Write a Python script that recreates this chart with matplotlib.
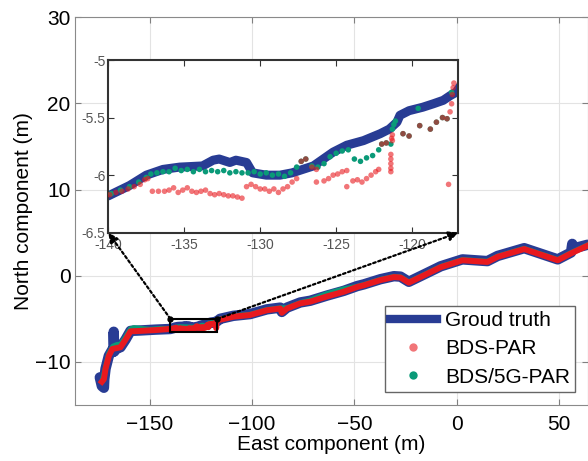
import matplotlib
matplotlib.use("Agg")
import matplotlib.pyplot as plt
from matplotlib.lines import Line2D
from matplotlib.patches import Rectangle, ConnectionPatch

plt.rcParams["font.family"] = ["Liberation Sans", "DejaVu Sans"]

# ground truth trajectory (east, north) in metres
gt_x = [-174.5, -173.5, -172.5, -172.3, -171.7, -170.1, -168.4, -167.7, -167.7, -167.5,
        -166.0, -164.4, -161.9, -159.5, -154.6, -147.0, -142.0,
        -140.0, -138.6, -137.5, -136.4, -135.3, -133.8, -133.1, -132.7, -132.0, -131.6,
        -130.9, -130.5, -129.6, -128.7, -127.9, -126.5, -125.2, -124.3, -123.2, -122.1,
        -121.5, -121.0, -120.8, -120.2, -119.3, -118.6, -117.95, -117.5, -117.1,
        -115.7, -109.2, -101.0, -92.8, -86.3, -85.5, -83.0, -76.5, -71.6, -63.4, -55.2,
        -48.7, -45.4, -37.3, -30.7, -27.5, -23.4, -16.0, -7.8, 2.8, 15.0, 20.0, 33.0,
        49.4, 55.9, 56.5, 57.5, 64.0]
gt_y = [-11.8, -12.8, -13.0, -12.0, -10.8, -9.3, -8.6, -8.8, -6.5, -8.8,
        -8.4, -8.3, -7.4, -6.4, -6.35, -6.25, -6.2,
        -6.18, -6.09, -6.0, -5.95, -5.93, -5.92, -5.87, -5.86, -5.89, -5.87,
        -5.89, -5.98, -6.0, -6.0, -5.98, -5.92, -5.80, -5.74, -5.70, -5.64,
        -5.60, -5.54, -5.48, -5.44, -5.41, -5.38, -5.35, -5.31, -5.28,
        -5.0, -4.65, -4.45, -3.9, -3.7, -4.2, -3.7, -3.1, -2.9, -2.3, -1.75,
        -1.2, -1.0, -0.4, -0.05, -0.1, -0.7, 0.15, 1.1, 1.9, 1.7, 2.3, 3.2,
        1.9, 2.7, 3.7, 3.2, 3.6]

# BDS-PAR solution
par_x = [-173.5, -172.5, -171.7, -170.1, -168.4, -164.4, -161.9, -159.5, -154.6, -147.0,
         -139.9, -139.5, -139.1, -138.7, -138.3, -137.9, -137.6, -137.4,
         -137.1, -136.7, -136.3, -136.0, -135.7, -135.4, -135.1, -134.8, -134.5, -134.2,
         -133.9, -133.6, -133.3, -133.0, -132.7, -132.4, -132.1, -131.8, -131.5, -131.2,
         -130.9, -130.6, -130.3, -130.0, -129.7, -129.4, -129.1, -128.8, -128.5, -128.2,
         -127.9, -127.6, -127.3, -127.0, -126.6, -126.3, -126.3,
         -125.8, -125.5, -125.2, -124.9, -124.6, -124.3, -124.3, -123.9, -123.6, -123.3,
         -123.0, -122.7, -122.4, -122.2, -122.0, -121.7,
         -121.4, -121.4, -121.4, -121.4, -121.4, -121.35, -121.3, -121.3,
         -120.6, -120.2, -119.5, -118.8, -118.4, -118.0, -117.7,
         -117.6, -117.5, -117.4, -117.35, -117.3, -117.25,
         -115.7, -109.2, -101.0, -92.8, -86.3, -85.5, -83.0, -76.5, -71.6, -63.4, -55.2,
         -48.7, -45.4, -37.3, -30.7, -27.5, -23.4, -16.0, -7.8, 2.8, 15.0, 20.0, 33.0,
         49.4, 55.9, 64.0]
par_y = [-12.3, -12.0, -10.8, -9.3, -8.5, -8.3, -7.4, -6.45, -6.4, -6.3,
         -6.17, -6.15, -6.14, -6.12, -6.10, -6.08, -6.04, -6.03,
         -6.14, -6.14, -6.14, -6.13, -6.11, -6.15, -6.13, -6.11, -6.14, -6.15,
         -6.14, -6.13, -6.16, -6.17, -6.16, -6.17, -6.18, -6.18, -6.19, -6.20,
         -6.10, -6.08, -6.10, -6.12, -6.12, -6.14, -6.12, -6.15, -6.12, -6.10,
         -6.06, -6.03, -5.88, -5.86, -5.93, -5.95, -6.06,
         -6.05, -6.03, -6.00, -5.99, -5.97, -5.96, -6.10, -6.05, -6.04, -6.06,
         -6.03, -6.00, -5.97, -5.95, -5.73, -5.72,
         -5.82, -5.86, -5.90, -5.94, -5.97, -5.68, -5.65, -5.70,
         -5.64, -5.66, -5.57, -5.60, -5.54, -5.50, -5.51,
         -6.08, -5.45, -5.38, -5.30, -5.24, -5.20,
         -5.1, -4.75, -4.55, -4.0, -3.8, -4.3, -3.8, -3.2, -3.0, -2.4, -1.85,
         -1.3, -1.1, -0.5, -0.15, -0.2, -0.8, 0.05, 1.0, 1.8, 1.6, 2.2, 3.1,
         1.8, 2.6, 3.5]

# BDS/5G-PAR solution
g5_x = [-173.0, -171.5, -170.0, -168.0, -166.0, -164.4, -162.0, -159.5, -157.9, -150.0, -145.0,
        -139.8, -139.2, -138.6, -138.0, -137.5, -137.2, -136.8, -136.4, -136.0, -135.6,
        -135.2, -134.8, -134.4, -134.0, -133.6, -133.2, -132.8, -132.4, -132.0, -131.6,
        -131.2, -130.8, -130.4, -130.0, -129.6, -129.2, -128.8, -128.4, -128.0, -127.6,
        -127.3, -127.0, -126.6, -126.2, -125.8, -125.4, -125.0, -124.6, -124.2, -123.8,
        -123.4, -123.0, -122.6, -122.2, -122.0, -121.7, -121.4, -121.3, -121.2, -121.1,
        -120.6, -120.2, -119.6, -119.5, -118.8, -118.4, -118.0, -117.7, -117.4,
        -115.7, -109.2, -101.0, -92.8, -86.3, -83.0, -76.5, -71.6, -63.4, -55.2,
        -48.7, -45.4, -37.3, -30.7, -27.5, -23.4, -16.0, -7.8, 2.8, 15.0, 20.0, 33.0,
        49.4, 55.9, 64.0]
g5_y = [-12.0, -10.5, -9.0, -8.2, -8.0, -8.0, -7.2, -6.2, -6.05, -6.25, -6.15,
        -6.16, -6.13, -6.10, -6.06, -6.02, -5.99, -5.98, -5.97, -5.97, -5.94,
        -5.96, -5.95, -5.97, -5.95, -5.97, -5.96, -5.97, -5.96, -5.98, -5.97,
        -5.98, -5.98, -5.97, -5.99, -5.98, -6.00, -5.99, -6.01, -5.98, -5.93,
        -5.88, -5.86, -5.92, -5.93, -5.90, -5.84, -5.81, -5.79, -5.78, -5.86,
        -5.88, -5.85, -5.83, -5.78, -5.73, -5.72, -5.73, -5.60, -5.56, -5.53,
        -5.64, -5.66, -5.42, -5.57, -5.60, -5.54, -5.50, -5.51, -5.28,
        -5.05, -4.7, -4.5, -3.95, -3.75, -3.75, -3.15, -2.85, -2.1, -1.55,
        -1.25, -1.05, -0.45, -0.1, -0.15, -0.75, 0.1, 1.05, 1.85, 1.65, 2.25, 3.15,
        1.85, 2.65, 3.55]

zoom_x = (-140, -116.96)
zoom_y = (-6.5, -5.0)

navy = "#283c94"
red = "#e8191e"
green = "#0a9a78"

fig = plt.figure(figsize=(5.88, 4.61), dpi=100)
ax = fig.add_axes([0.128, 0.1215, 0.872, 0.841])

ax.plot(gt_x, gt_y, color=navy, lw=7.5, solid_capstyle="round", solid_joinstyle="round", zorder=2)
ax.plot(g5_x, g5_y, color=green, lw=4, solid_joinstyle="round", zorder=3)
ax.plot(par_x, par_y, color=red, lw=4.3, solid_joinstyle="round", zorder=4)

ax.set_xlim(-186.5, 64.2)
ax.set_ylim(-15, 30)
ax.set_xticks([-150, -100, -50, 0, 50])
ax.set_yticks([-10, 0, 10, 20, 30])
ax.grid(True, color="#e3e3e3", lw=0.8)
ax.set_axisbelow(True)
ax.tick_params(direction="in", labelsize=15, top=True, right=True, color="#808080", length=4)
ax.tick_params(axis="x", pad=7)
for s in ax.spines.values():
    s.set_color("#8a8a8a")
    s.set_linewidth(0.8)
ax.set_xlabel("East component (m)", fontsize=15, labelpad=1)
ax.set_ylabel("North component (m)", fontsize=15, labelpad=1)

# zoom window on the main axes
ax.add_patch(Rectangle((zoom_x[0], zoom_y[0]), zoom_x[1] - zoom_x[0], zoom_y[1] - zoom_y[0],
                       fill=False, ec="black", lw=1.5, zorder=6))

handles = [
    Line2D([], [], color=navy, lw=6),
    Line2D([], [], ls="none", marker="o", ms=6, color=red, alpha=0.6, mec="none"),
    Line2D([], [], ls="none", marker="o", ms=6, color=green, mec="none"),
]
leg = ax.legend(handles, ["Groud truth", "BDS-PAR", "BDS/5G-PAR"], loc="lower right",
                bbox_to_anchor=(0.975, 0.034), borderaxespad=0, fontsize=15,
                handlelength=2.25, fancybox=False, framealpha=1, borderpad=0.25,
                labelspacing=0.45, handletextpad=0.4)
leg.get_frame().set_edgecolor("#666666")
leg.get_frame().set_linewidth(1.0)

# zoomed inset
axin = fig.add_axes([0.1842, 0.4952, 0.5952, 0.3746])
axin.plot(gt_x, gt_y, color=navy, lw=6.5, solid_capstyle="round", solid_joinstyle="round", zorder=2)
axin.scatter(g5_x, g5_y, s=16, color=green, edgecolors="none", zorder=3)
axin.scatter(par_x, par_y, s=16, color=red, alpha=0.6, edgecolors="none", zorder=4)
axin.set_xlim(*zoom_x)
axin.set_ylim(*zoom_y)
axin.set_xticks([-140, -135, -130, -125, -120])
axin.set_xticklabels(["-140", "-135", "-130", "-125", "-120"])
axin.set_yticks([-6.5, -6, -5.5, -5])
axin.set_yticklabels(["-6.5", "-6", "-5.5", "-5"])
axin.tick_params(direction="in", labelsize=10, labelcolor="#555555", top=True, right=True,
                 color="#333333", length=4, pad=2)
axin.tick_params(axis="x", pad=3.5)
for s in axin.spines.values():
    s.set_color("#333333")
    s.set_linewidth(1.5)

# dotted arrows from the zoom window to the inset
for corner_x, inset_fx in [(zoom_x[0], 0), (zoom_x[1], 1)]:
    con = ConnectionPatch(xyA=(corner_x, zoom_y[1]), coordsA=ax.transData,
                          xyB=(inset_fx, 0), coordsB=axin.transAxes,
                          arrowstyle="-|>", linestyle=(0, (1.2, 1.2)), lw=1.6,
                          color="black", mutation_scale=14, zorder=7)
    fig.add_artist(con)
ax.plot(zoom_x, [zoom_y[1], zoom_y[1]], "o", color="black", ms=3.5, zorder=7)

fig.savefig("out.png", dpi=100)
